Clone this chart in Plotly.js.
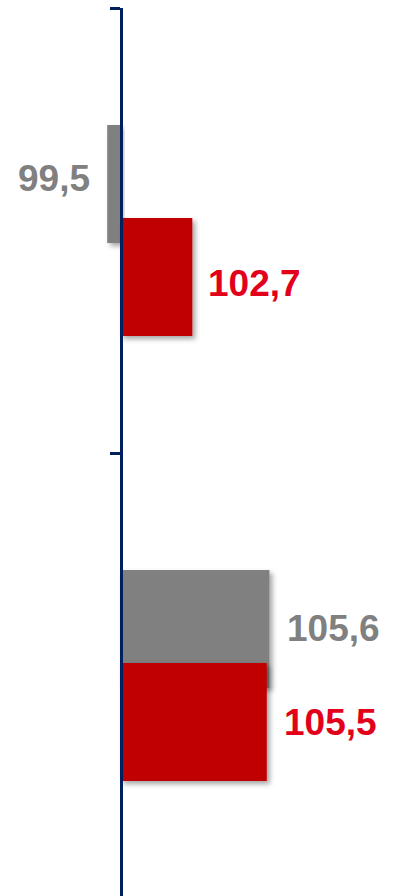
<!DOCTYPE html>
<html>
<head>
<meta charset="utf-8">
<script src="https://cdn.plot.ly/plotly-3.0.1.min.js"></script>
<style>
html,body{margin:0;padding:0;background:#fff;}
#chart{width:403px;height:896px;}
</style>
</head>
<body>
<div id="chart"></div>
<script>
// Data
const categories = ["A", "B"];
const baseValue = 100;
const grayValues = [99.5, 105.6];
const redValues = [102.7, 105.5];

const GRAY = "#808080";
const RED_BAR = "#C00000";
const RED_TEXT = "#E2001A";
const NAVY = "#002060";

const barWidth = 0.265;
const halfGap = 0.1045;

function fmt(v){ return v.toFixed(1).replace(".", ","); }

const traceGray = {
  type: "bar", orientation: "h",
  y: categories,
  x: grayValues.map(v => v - baseValue),
  base: baseValue,
  width: barWidth,
  offset: -halfGap - barWidth/2,
  marker: {color: GRAY, line: {width: 0}},
  hoverinfo: "skip"
};
const traceRed = {
  type: "bar", orientation: "h",
  y: categories,
  x: redValues.map(v => v - baseValue),
  base: baseValue,
  width: barWidth,
  offset: halfGap - barWidth/2,
  marker: {color: RED_BAR, line: {width: 0}},
  hoverinfo: "skip"
};

const pxPerCat = 445;
const annFont = {family: "Liberation Sans, Arial, sans-serif", size: 37};
const annotations = [];
// small vertical nudges (px, positive = down) to match reference label placement
function addLabels(values, color, shiftPx, nudges, xs){
  values.forEach((v, i) => {
    const neg = v < baseValue;
    annotations.push({
      x: v, y: categories[i], xref: "x", yref: "y",
      text: "<b>" + fmt(v) + "</b>",
      showarrow: false,
      xanchor: neg ? "right" : "left",
      xshift: neg ? -15 : xs[i],
      yshift: -(shiftPx + nudges[i]),
      font: Object.assign({color: color}, annFont)
    });
  });
}
addLabels(grayValues, GRAY, -halfGap * pxPerCat, [-5, 0], [14, 16]);
addLabels(redValues, RED_TEXT, halfGap * pxPerCat, [6, 0], [14, 15]);

const layout = {
  width: 403, height: 896,
  margin: {l: 0, r: 0, t: 8, b: 0},
  paper_bgcolor: "#fff", plot_bgcolor: "#fff",
  showlegend: false,
  barmode: "overlay",
  xaxis: {
    range: [95.47, 110.62],
    showgrid: false, zeroline: false, showticklabels: false,
    ticks: "", showline: false, fixedrange: true
  },
  yaxis: {
    type: "category",
    categoryorder: "array", categoryarray: categories,
    range: [1.4955, -0.5],
    anchor: "free", position: 120.5/403,
    showgrid: false, zeroline: false, showticklabels: false,
    showline: true, linecolor: NAVY, linewidth: 3.5,
    ticks: "outside", tickson: "boundaries", ticklen: 10, tickwidth: 3, tickcolor: NAVY,
    fixedrange: true
  },
  annotations: annotations
};

Plotly.newPlot("chart", [traceGray, traceRed], layout, {displayModeBar: false, staticPlot: true}).then(gd => {
  const svg = gd.querySelector("svg.main-svg");
  const ns = "http://www.w3.org/2000/svg";
  let defs = svg.querySelector("defs");
  if (!defs) { defs = document.createElementNS(ns, "defs"); svg.insertBefore(defs, svg.firstChild); }
  const f = document.createElementNS(ns, "filter");
  f.setAttribute("id", "barShadow");
  f.setAttribute("x", "-20%"); f.setAttribute("y", "-20%");
  f.setAttribute("width", "150%"); f.setAttribute("height", "150%");
  const ds = document.createElementNS(ns, "feDropShadow");
  ds.setAttribute("dx", "3"); ds.setAttribute("dy", "3");
  ds.setAttribute("stdDeviation", "2.5");
  ds.setAttribute("flood-color", "#000"); ds.setAttribute("flood-opacity", "0.35");
  f.appendChild(ds);
  defs.appendChild(f);
  gd.querySelectorAll(".barlayer .point path").forEach(p => p.setAttribute("filter", "url(#barShadow)"));
});
</script>
</body>
</html>
